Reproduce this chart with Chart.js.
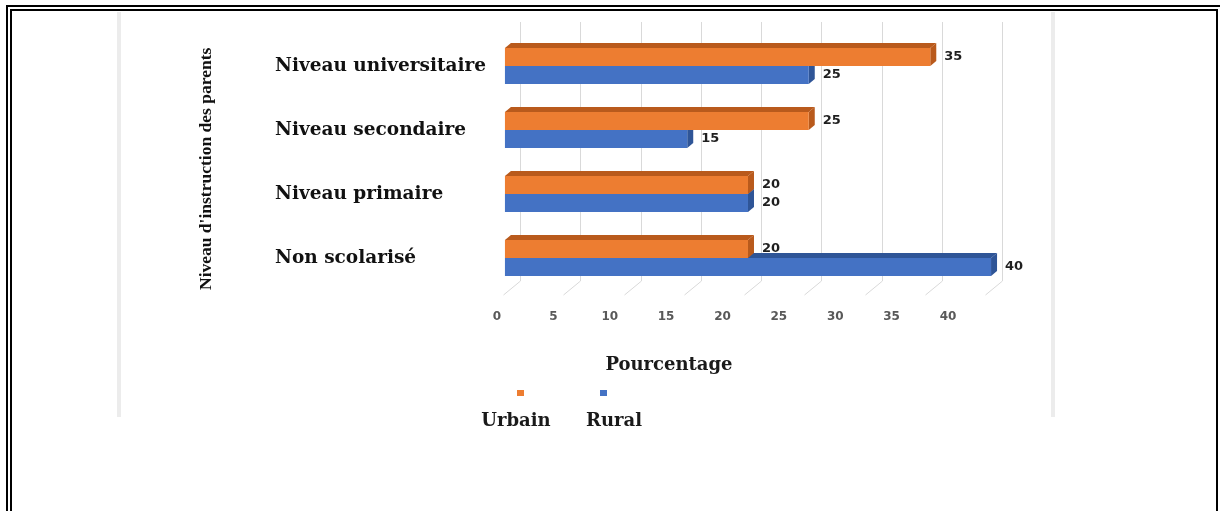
<!DOCTYPE html>
<html>
<head>
<meta charset="utf-8">
<script src="https://cdn.jsdelivr.net/npm/chart.js@4.4.0/dist/chart.umd.min.js"></script>
<style>
  html, body { margin: 0; padding: 0; background: #fff; overflow: hidden; width: 1220px; height: 511px; }
  #inner { position: absolute; left: 117px; top: 12px; width: 938px; height: 405px; box-sizing: border-box;
           border-left: 4px solid #ececec; border-right: 4px solid #ececec; }
  #frame { position: absolute; left: 6px; top: 5px; width: 1216px; height: 600px; box-sizing: border-box;
           border: 6px double #000; }
  canvas { position: absolute; left: 0; top: 0; }
</style>
</head>
<body>
<div id="inner"></div>
<div id="frame"></div>
<canvas id="c" width="1220" height="511"></canvas>
<script>
// ---- data ----
const categories = ['Niveau universitaire', 'Niveau secondaire', 'Niveau primaire', 'Non scolarisé'];
const urbainValues = [35, 25, 20, 20];
const ruralValues = [25, 15, 20, 40];
const xTickValues = [0, 5, 10, 15, 20, 25, 30, 35, 40];
const seriesNames = ['Urbain', 'Rural'];
const yAxisTitle = "Niveau d'instruction des parents";
const xAxisTitle = 'Pourcentage';

// ---- style ----
const frontColors = ['#ED7D31', '#4472C4'];
const shadeColors = ['#B95A1C', '#2F5597'];
const DX = 6, DY = 5;
const serifBold = { family: 'DejaVu Serif', weight: 'bold', size: 18.5 };

const decor = {
  id: 'decor',
  beforeDatasetsDraw(chart) {
    const ctx = chart.ctx, area = chart.chartArea;
    const g = chart.scales.xGrid;
    ctx.save();
    // back wall grid + floor lines
    ctx.strokeStyle = '#d9d9d9';
    ctx.lineWidth = 1;
    xTickValues.forEach(v => {
      const px = Math.round(g.getPixelForValue(v)) + 0.5;
      ctx.beginPath();
      ctx.moveTo(px, area.top - 12);
      ctx.lineTo(px, area.bottom - 9);
      ctx.lineTo(px - 17, area.bottom + 5);
      ctx.stroke();
    });
    // 3D top and side faces
    for (let d = chart.data.datasets.length - 1; d >= 0; d--) {
      const meta = chart.getDatasetMeta(d);
      ctx.fillStyle = shadeColors[d];
      meta.data.forEach(el => {
        const { x, y, base, height } = el.getProps(['x', 'y', 'base', 'height'], true);
        const top = y - height / 2, bottom = y + height / 2;
        ctx.beginPath();
        ctx.moveTo(base, top);
        ctx.lineTo(base + DX, top - DY);
        ctx.lineTo(x + DX, top - DY);
        ctx.lineTo(x, top);
        ctx.closePath();
        ctx.fill();
        ctx.beginPath();
        ctx.moveTo(x, top);
        ctx.lineTo(x + DX, top - DY);
        ctx.lineTo(x + DX, bottom - DY);
        ctx.lineTo(x, bottom);
        ctx.closePath();
        ctx.fill();
      });
    }
    ctx.restore();
  },
  afterDatasetsDraw(chart) {
    const ctx = chart.ctx;
    ctx.save();
    ctx.font = '700 13px "DejaVu Sans"';
    ctx.fillStyle = '#1f1f1f';
    ctx.textAlign = 'left';
    ctx.textBaseline = 'middle';
    chart.data.datasets.forEach((ds, d) => {
      chart.getDatasetMeta(d).data.forEach((el, i) => {
        ctx.fillText(String(ds.data[i]), el.x + 14, el.y);
      });
    });
    ctx.restore();
  },
  afterDraw(chart) {
    const ctx = chart.ctx;
    ctx.save();
    ctx.font = 'bold 18px "DejaVu Serif"';
    ctx.fillStyle = '#1a1a1a';
    ctx.textAlign = 'center';
    ctx.textBaseline = 'middle';
    ctx.fillText(xAxisTitle, 669, 365);
    // legend: marker above label
    const legendPos = [{ m: 520, t: 516 }, { m: 603, t: 614 }];
    chart.data.datasets.forEach((ds, d) => {
      ctx.fillStyle = frontColors[d];
      ctx.fillRect(legendPos[d].m - 3, 390, 7, 6);
      ctx.fillStyle = '#1a1a1a';
      ctx.fillText(ds.label, legendPos[d].t, 421);
    });
    ctx.restore();
  }
};

new Chart(document.getElementById('c'), {
  type: 'bar',
  data: {
    labels: categories,
    datasets: [
      { label: seriesNames[0], data: urbainValues, backgroundColor: frontColors[0], xAxisID: 'x', yAxisID: 'y', clip: false },
      { label: seriesNames[1], data: ruralValues, backgroundColor: frontColors[1], xAxisID: 'x', yAxisID: 'y', clip: false }
    ]
  },
  options: {
    indexAxis: 'y',
    responsive: false,
    animation: false,
    devicePixelRatio: 1,
    layout: { padding: { left: 192, right: 210, top: 34, bottom: 0 } },
    datasets: { bar: { barPercentage: 1, categoryPercentage: 0.5625, borderWidth: 0 } },
    plugins: { legend: { display: false }, tooltip: { enabled: false } },
    scales: {
      x: { type: 'linear', position: 'bottom', display: false, min: -1.23, max: 41.56 },
      xTicks: {
        type: 'linear', position: 'bottom', min: -0.62, max: 45.5,
        grid: { display: false, drawTicks: false }, border: { display: false },
        ticks: { font: { family: 'DejaVu Sans', weight: 'bold', size: 12 }, color: '#595959', padding: 20, maxRotation: 0 },
        afterBuildTicks: s => { s.ticks = xTickValues.map(v => ({ value: v })); },
        afterFit: s => { s.height = 221; }
      },
      xGrid: { type: 'linear', position: 'bottom', display: false, min: -2.49, max: 40.66 },
      y: {
        type: 'category', position: 'left', weight: 0,
        grid: { display: false, drawTicks: false }, border: { display: false },
        ticks: { crossAlign: 'far', font: serifBold, color: '#111', padding: 0 },
        afterFit: s => { s.width = 215; }
      },
      yTitle: {
        type: 'category', position: 'left', weight: 1,
        grid: { display: false, drawTicks: false }, border: { display: false },
        ticks: { display: false },
        title: { display: true, text: yAxisTitle, align: 'start', color: '#111',
                 font: { family: 'Liberation Serif', weight: 'bold', size: 17.5 }, padding: { top: 4, bottom: 0 } },
        afterFit: s => { s.width = 83; }
      }
    }
  },
  plugins: [decor]
});
</script>
</body>
</html>
